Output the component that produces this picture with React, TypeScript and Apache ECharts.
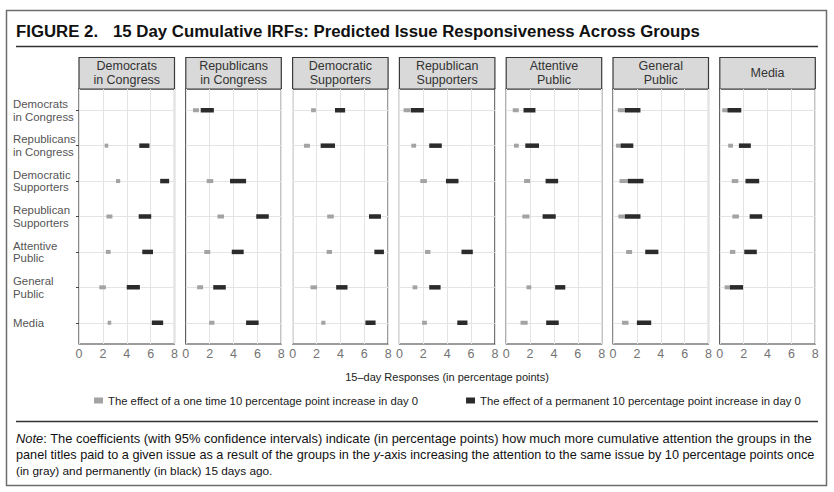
import { useEffect, useRef } from 'react';
import * as echarts from 'echarts';

const FONT = 'Liberation Sans, Arial, Helvetica, sans-serif';

const panelTitles = [
  'Democrats\nin Congress',
  'Republicans\nin Congress',
  'Democratic\nSupporters',
  'Republican\nSupporters',
  'Attentive\nPublic',
  'General\nPublic',
  'Media',
];
const rowLabels = [
  'Democrats\nin Congress',
  'Republicans\nin Congress',
  'Democratic\nSupporters',
  'Republican\nSupporters',
  'Attentive\nPublic',
  'General\nPublic',
  'Media',
];
const rowValues = [1, 2, 3, 4, 5, 6, 7];
const xTicks = [0, 2, 4, 6, 8];

const ONE_TIME = 'The effect of a one time 10 percentage point increase in day 0';
const PERMANENT = 'The effect of a permanent 10 percentage point increase in day 0';

type CI = [number, number] | null;
// [low, high] per responding row (Democrats in Congress ... Media)
const demCongressOneTime: CI[] = [null, [2.15, 2.45], [3.1, 3.45], [2.3, 2.8], [2.25, 2.65], [1.7, 2.25], [2.4, 2.7]];
const demCongressPermanent: CI[] = [null, [5.05, 5.9], [6.8, 7.55], [5.0, 6.05], [5.3, 6.2], [4.0, 5.1], [6.1, 7.05]];
const repCongressOneTime: CI[] = [[0.6, 1.1], null, [1.75, 2.3], [2.65, 3.2], [1.55, 2.05], [0.95, 1.45], [1.95, 2.4]];
const repCongressPermanent: CI[] = [[1.25, 2.35], null, [3.7, 5.05], [5.9, 6.95], [3.85, 4.85], [2.3, 3.35], [5.05, 6.1]];
const demSupportersOneTime: CI[] = [[1.55, 1.95], [0.95, 1.45], null, [2.9, 3.45], [2.85, 3.3], [1.5, 2.05], [2.4, 2.75]];
const demSupportersPermanent: CI[] = [[3.55, 4.4], [2.35, 3.55], null, [6.4, 7.4], [6.85, 7.65], [3.65, 4.6], [6.1, 6.95]];
const repSupportersOneTime: CI[] = [[0.35, 0.9], [1.0, 1.4], [1.75, 2.3], null, [2.15, 2.6], [1.1, 1.5], [1.9, 2.3]];
const repSupportersPermanent: CI[] = [[0.95, 2.05], [2.5, 3.55], [3.9, 4.95], null, [5.2, 6.15], [2.5, 3.45], [4.85, 5.7]];
const attentiveOneTime: CI[] = [[0.55, 1.05], [0.65, 1.05], [1.5, 2.0], [1.35, 1.95], null, [1.7, 2.1], [1.2, 1.8]];
const attentivePermanent: CI[] = [[1.45, 2.45], [1.6, 2.75], [3.3, 4.35], [3.05, 4.15], null, [4.1, 4.95], [3.35, 4.4]];
const generalOneTime: CI[] = [[0.4, 1.05], [0.25, 0.7], [0.55, 1.3], [0.45, 1.0], [1.1, 1.6], null, [0.75, 1.3]];
const generalPermanent: CI[] = [[1.0, 2.3], [0.65, 1.7], [1.25, 2.55], [1.0, 2.3], [2.7, 3.8], null, [2.0, 3.2]];
const mediaOneTime: CI[] = [[0.2, 0.7], [0.7, 1.1], [1.0, 1.55], [1.05, 1.6], [0.85, 1.3], [0.4, 0.95], null];
const mediaPermanent: CI[] = [[0.65, 1.8], [1.6, 2.6], [2.15, 3.3], [2.5, 3.55], [2.05, 3.1], [0.85, 1.95], null];

const oneTimeByPanel = [demCongressOneTime, repCongressOneTime, demSupportersOneTime, repSupportersOneTime, attentiveOneTime, generalOneTime, mediaOneTime];
const permanentByPanel = [demCongressPermanent, repCongressPermanent, demSupportersPermanent, repSupportersPermanent, attentivePermanent, generalPermanent, mediaPermanent];

const noteLines = [
  '{i|Note}: The coefficients (with 95% confidence intervals) indicate (in percentage points) how much more cumulative attention the groups in the',
  'panel titles paid to a given issue as a result of the groups in the {i|y}-axis increasing the attention to the same issue by 10 percentage points once',
  '(in gray) and permanently (in black) 15 days ago.',
];
const noteSizes = [12.9, 12.7, 11.8];

const P_LEFT = 79;
const P_PITCH = 106.8;
const P_W = 95.5;
const G_TOP = 89;
const G_H = 255;
const S_TOP = 57.5;
const S_H = 31.5;

const GRAY = '#a3a3a3';
const BLACK = '#2b2b2b';

function toData(list: CI[]) {
  const out: number[][] = [];
  list.forEach((ci, i) => {
    if (ci) out.push([ci[0], ci[1], rowValues[i]]);
  });
  return out;
}

function makeRender(thick: number, color: string) {
  return (_params: any, api: any) => {
    const lo = api.value(0);
    const hi = api.value(1);
    const y = api.value(2);
    const a = api.coord([lo, y]);
    const b = api.coord([hi, y]);
    return {
      type: 'rect',
      shape: { x: a[0], y: a[1] - thick / 2, width: b[0] - a[0], height: thick },
      style: { fill: color },
    };
  };
}

export default function App() {
  const ref = useRef<HTMLDivElement>(null);
  useEffect(() => {
    if (!ref.current) return;
    const chart = echarts.init(ref.current, undefined, { renderer: 'svg' });
    const grids: any[] = [];
    const xAxes: any[] = [];
    const yAxes: any[] = [];
    const series: any[] = [];
    const graphics: any[] = [];

    panelTitles.forEach((title, i) => {
      const left = P_LEFT + i * P_PITCH;
      grids.push({
        left,
        top: G_TOP,
        width: P_W,
        height: G_H,
        show: true,
        borderColor: '#3a3a3a',
        borderWidth: 1.2,
        backgroundColor: 'transparent',
      });
      xAxes.push({
        type: 'value',
        gridIndex: i,
        min: xTicks[0],
        max: xTicks[xTicks.length - 1],
        interval: 2,
        axisLine: { show: false },
        axisTick: { show: false },
        axisLabel: { color: '#737373', fontSize: 12.5, fontFamily: FONT, margin: 3, showMinLabel: true, showMaxLabel: true },
        splitLine: { show: true, lineStyle: { color: '#e4e4e4', width: 1 } },
      });
      yAxes.push({
        type: 'value',
        gridIndex: i,
        min: 0.4,
        max: 7.6,
        inverse: true,
        axisLine: { show: false },
        axisTick: { show: i === 0, length: 3, lineStyle: { color: '#444' }, customValues: rowValues },
        axisLabel: {
          show: i === 0,
          customValues: rowValues,
          formatter: (v: number) => rowLabels[Math.round(v) - 1] || '',
          align: 'left',
          margin: 66,
          color: '#555',
          fontSize: 11.4,
          lineHeight: 12.5,
          fontFamily: FONT,
        },
        splitLine: { show: true, lineStyle: { color: '#e4e4e4', width: 1 } },
      });
      series.push({
        type: 'custom',
        name: ONE_TIME,
        xAxisIndex: i,
        yAxisIndex: i,
        itemStyle: { color: GRAY },
        encode: { x: [0, 1], y: 2 },
        renderItem: makeRender(4, GRAY),
        data: toData(oneTimeByPanel[i]),
        z: 3,
      });
      series.push({
        type: 'custom',
        name: PERMANENT,
        xAxisIndex: i,
        yAxisIndex: i,
        itemStyle: { color: BLACK },
        encode: { x: [0, 1], y: 2 },
        renderItem: makeRender(4.5, BLACK),
        data: toData(permanentByPanel[i]),
        z: 4,
      });
      graphics.push({
        type: 'rect',
        shape: { x: left, y: S_TOP, width: P_W, height: S_H },
        style: { fill: '#d9d9d9', stroke: '#3a3a3a', lineWidth: 1.2 },
      });
      graphics.push({
        type: 'text',
        style: {
          x: left + P_W / 2,
          y: S_TOP + S_H / 2,
          text: title,
          align: 'center',
          verticalAlign: 'middle',
          fontSize: 12.5,
          lineHeight: 14.3,
          fontFamily: FONT,
          fill: '#333',
        },
      });
    });

    graphics.push(
      {
        type: 'rect',
        shape: { x: 6.5, y: 10.5, width: 820, height: 475 },
        style: { fill: 'none', stroke: '#6e6e6e', lineWidth: 1.5 },
      },
      {
        type: 'text',
        style: { x: 16, y: 31, text: 'FIGURE 2.', verticalAlign: 'middle', fontSize: 16.8, fontWeight: 'bold', fontFamily: FONT, fill: '#111' },
      },
      {
        type: 'text',
        style: {
          x: 113,
          y: 31,
          text: '15 Day Cumulative IRFs: Predicted Issue Responsiveness Across Groups',
          verticalAlign: 'middle',
          fontSize: 16.8,
          fontWeight: 'bold',
          fontFamily: FONT,
          fill: '#111',
        },
      },
      {
        type: 'line',
        shape: { x1: 16, y1: 46.5, x2: 818, y2: 46.5 },
        style: { stroke: '#333', lineWidth: 1.3 },
      },
      {
        type: 'text',
        style: {
          x: 447,
          y: 377,
          text: '15–day Responses (in percentage points)',
          align: 'center',
          verticalAlign: 'middle',
          fontSize: 11,
          fontFamily: FONT,
          fill: '#222',
        },
      },
      {
        type: 'line',
        shape: { x1: 16, y1: 421.5, x2: 818, y2: 421.5 },
        style: { stroke: '#333', lineWidth: 1.3 },
      }
    );
    noteLines.forEach((t, k) => {
      const fs = noteSizes[k];
      graphics.push({
        type: 'text',
        style: {
          x: 16,
          y: 438 + k * 16.5,
          text: t,
          verticalAlign: 'middle',
          fontSize: fs,
          fontFamily: FONT,
          fill: '#111',
          rich: {
            i: { fontStyle: 'italic', fontSize: fs, fontFamily: FONT, fill: '#111' },
          },
        },
      });
    });

    chart.setOption({
      animation: false,
      backgroundColor: '#fff',
      grid: grids,
      xAxis: xAxes,
      yAxis: yAxes,
      series,
      legend: {
        left: 94,
        top: 395,
        padding: 0,
        itemWidth: 9,
        itemHeight: 6,
        itemGap: 48,
        icon: 'rect',
        selectedMode: false,
        textStyle: { fontSize: 11.3, color: '#222', fontFamily: FONT },
        data: [ONE_TIME, PERMANENT],
      },
      graphic: graphics,
    });
    return () => chart.dispose();
  }, []);
  return <div ref={ref} style={{ position: 'fixed', left: 0, top: 0, width: 834, height: 492 }} />;
}
